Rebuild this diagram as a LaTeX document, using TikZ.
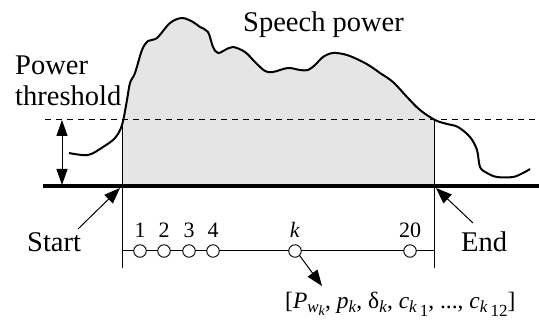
\documentclass[tikz,border=0pt]{standalone}
\usepackage{fontspec}
\setmainfont{Liberation Serif}
\usetikzlibrary{arrows.meta}
\newcommand\SubA{\fontsize{17}{17}\selectfont}
\newcommand\SubB{\fontsize{14}{14}\selectfont}
\begin{document}
\begin{tikzpicture}[x=1pt,y=-1pt,
  bigtxt/.style={font=\fontsize{28.5}{30}\selectfont, inner sep=0pt},
  numtxt/.style={font=\fontsize{22}{24}\selectfont, inner sep=0pt},
  vectxt/.style={font=\fontsize{23.5}{25}\selectfont, inner sep=0pt},
  sample/.style={circle, draw, fill=white, minimum size=12.5pt, inner sep=0pt, line width=0.9pt},
  thin/.style={line width=1pt},
  tip/.style={-{Triangle[length=16pt,width=12pt]}},
  curve/.style={line width=2pt, line join=round}]
\useasboundingbox (0,0) rectangle (539,320);
\def\speechcurve{plot[smooth,tension=0.55] coordinates {
 (69,153) (88,155) (103,147) (115,138) (122,125) (127,100) (130,83) (135,73)
 (142,50) (148,41) (157,38) (170,23) (182,18) (193,22) (200,27) (208,32)
 (213,47) (218,53) (225,50) (233,47) (245,52) (255,62) (265,71) (273,72)
 (288,68) (300,70) (308,70) (315,65) (323,57) (333,53) (347,55) (363,62)
 (373,68) (380,73) (393,82) (407,97) (420,110) (435,120) (447,124) (458,127)
 (470,137) (477,150) (480,167) (487,173) (497,177) (513,177) (523,173) (530,169)}}
% shaded area
\begin{scope}
 \clip (122,0) rectangle (434,186);
 \fill[gray!20] \speechcurve -- (530,186) -- (69,186) -- cycle;
\end{scope}
% threshold
\draw[thin, dash pattern=on 6pt off 5pt] (45,120) -- (539,120);
% vertical bounds
\coordinate (sTop) at (122,120);
\coordinate (sBot) at (122,268);
\coordinate (eTop) at (434,120);
\coordinate (eBot) at (434,268);
\draw[thin] (sTop) -- (sBot);
\draw[thin] (eTop) -- (eBot);
% curve
\draw[curve] \speechcurve;
% baseline
\coordinate (bL) at (43,186);
\coordinate (bR) at (539,186);
\draw[line width=4pt] (bL) -- (bR);
% threshold double arrow
\coordinate (tA) at (62,120);
\coordinate (tB) at (62,185);
\draw[thin, {Triangle[length=16pt,width=11pt]}-{Triangle[length=16pt,width=11pt]}] (tA) -- (tB);
% texts
\node[bigtxt, anchor=base west] (sp) at (243,32) {Speech power};
\node[bigtxt, anchor=base west] (pw) at (15,75) {Power};
\node[bigtxt, anchor=base west] (th) at (15,106) {threshold};
\node[bigtxt, anchor=base west] (st) at (27,252) {Start};
\node[bigtxt, anchor=base west] (en) at (461,252) {End};
% start/end arrows
\coordinate (stA) at (78,229);
\coordinate (stB) at (120,188);
\coordinate (enA) at (473,223);
\coordinate (enB) at (436,188);
\draw[thin, tip] (stA) -- (stB);
\draw[thin, tip] (enA) -- (enB);
% frame line
\coordinate (fL) at (122,251);
\coordinate (fR) at (434,251);
\draw[thin] (fL) -- (fR);
\node[sample] (c1) at (140,251) {};
\node[sample] (c2) at (164,251) {};
\node[sample] (c3) at (189,251) {};
\node[sample] (c4) at (213,251) {};
\node[sample] (ck) at (295,251) {};
\node[sample] (c20) at (410,251) {};
\node[numtxt, anchor=base] (l1) at (140,238) {1};
\node[numtxt, anchor=base] (l2) at (164,238) {2};
\node[numtxt, anchor=base] (l3) at (189,238) {3};
\node[numtxt, anchor=base] (l4) at (213,238) {4};
\node[numtxt, anchor=base] (lk) at (295,238) {\textit{k}};
\node[numtxt, anchor=base] (l20) at (410,238) {20};
% feature vector
\coordinate (fv) at (322,286);
\draw[thin, tip] (ck.-45) -- (fv);
\node[vectxt, anchor=base west] (vec) at (285,309) {[\textit{P}\raisebox{-4pt}{\SubA\textit{w}\raisebox{-3pt}{\SubB\textit{k}}}, \textit{p}\raisebox{-4pt}{\SubA\textit{k}}, δ\raisebox{-4pt}{\SubA\textit{k}}, \textit{c}\raisebox{-4pt}{\SubA\textit{k}\,\raisebox{-4pt}{1}}, ..., \textit{c}\raisebox{-4pt}{\SubA\textit{k}\,\raisebox{-4pt}{12}}]};
\end{tikzpicture}
\end{document}
